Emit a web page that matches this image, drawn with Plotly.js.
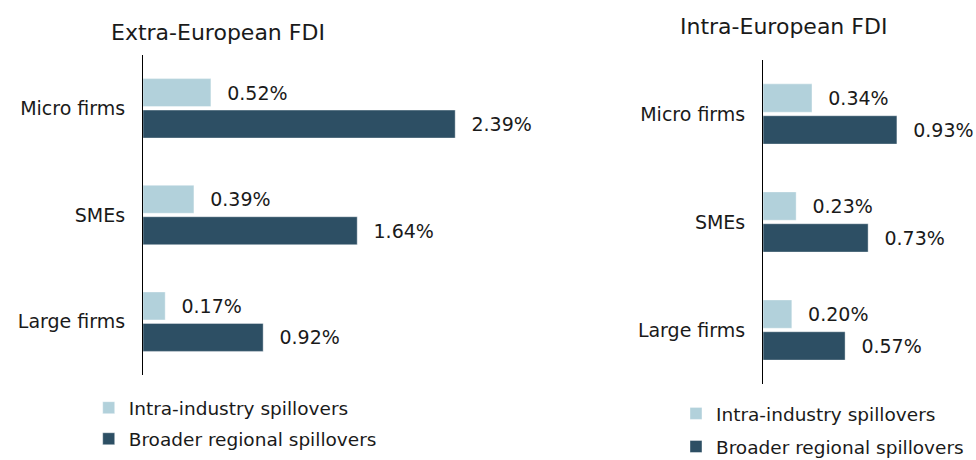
<!DOCTYPE html>
<html>
<head>
<meta charset="utf-8">
<script src="https://cdn.plot.ly/plotly-3.0.1.min.js"></script>
<style>
  body { margin: 0; background: #fff; }
  #chart { width: 976px; height: 460px; }
</style>
</head>
<body>
<div id="chart"></div>
<script>
// firm size groups, top to bottom
var categories = ["Micro firms", "SMEs", "Large firms"];

// Extra-European FDI (%)
var extraIntra = [0.52, 0.39, 0.17];
var extraBroader = [2.39, 1.64, 0.92];

// Intra-European FDI (%)
var intraIntra = [0.34, 0.23, 0.20];
var intraBroader = [0.93, 0.73, 0.57];

var seriesNames = ["Intra-industry spillovers", "Broader regional spillovers"];
var panelTitles = ["Extra-European FDI", "Intra-European FDI"];

var lightBlue = "#b2d1db";
var darkBlue = "#2d4f64";
var font = "DejaVu Sans, Verdana, sans-serif";

function barTrace(vals, name, color, xa, ya, legend) {
  return {
    type: "bar",
    orientation: "h",
    y: categories,
    x: vals,
    name: name,
    xaxis: xa,
    yaxis: ya,
    legend: legend,
    legendgroup: legend + name,
    marker: { color: color, line: { color: "rgba(255,255,255,0.4)", width: 1 } },
    texttemplate: "\u2002\u2009%{x:.2f}%",
    textposition: "outside",
    constraintext: "none",
    cliponaxis: false,
    textfont: { family: font, size: 19, color: "#1a1a1a" },
    hoverinfo: "x+y"
  };
}

var data = [
  barTrace(extraIntra, seriesNames[0], lightBlue, "x", "y", "legend"),
  barTrace(extraBroader, seriesNames[1], darkBlue, "x", "y", "legend"),
  barTrace(intraIntra, seriesNames[0], lightBlue, "x2", "y2", "legend2"),
  barTrace(intraBroader, seriesNames[1], darkBlue, "x2", "y2", "legend2")
];

var yaxisBase = {
  type: "category",
  categoryorder: "array",
  categoryarray: categories,
  autorange: "reversed",
  showline: true,
  linecolor: "#000",
  linewidth: 1,
  ticks: "outside",
  ticklen: 13,
  tickcolor: "rgba(0,0,0,0)",
  showgrid: false,
  zeroline: false,
  tickfont: { family: font, size: 19, color: "#1a1a1a" }
};

var legendFont = { family: font, size: 18.5, color: "#1a1a1a" };

var layout = {
  width: 976,
  height: 460,
  margin: { l: 0, r: 0, t: 0, b: 0, autoexpand: false },
  paper_bgcolor: "#fff",
  plot_bgcolor: "#fff",
  barmode: "group",
  bargap: 0.41,
  bargroupgap: 0.11,
  font: { family: font, color: "#1a1a1a" },
  xaxis: { domain: [0.1465, 0.4945], range: [0, 2.6], visible: false, anchor: "y" },
  yaxis: Object.assign({}, yaxisBase, { domain: [0.1848, 0.8804], anchor: "x" }),
  xaxis2: { domain: [0.7818, 0.9883], range: [0, 1.4], visible: false, anchor: "y2" },
  yaxis2: Object.assign({}, yaxisBase, { domain: [0.1652, 0.8696], anchor: "x2" }),
  legend: {
    x: 0.0909, y: 0.154, xanchor: "left", yanchor: "top",
    orientation: "v", traceorder: "grouped", tracegroupgap: 4,
    font: legendFont,
    bgcolor: "rgba(0,0,0,0)"
  },
  legend2: {
    x: 0.6926, y: 0.1415, xanchor: "left", yanchor: "top",
    orientation: "v", traceorder: "grouped", tracegroupgap: 6,
    font: legendFont,
    bgcolor: "rgba(0,0,0,0)"
  },
  annotations: [
    { text: panelTitles[0], xref: "paper", yref: "paper", x: 218 / 976, y: 1 - 32 / 460,
      xanchor: "center", yanchor: "middle", showarrow: false,
      font: { family: font, size: 22, color: "#1a1a1a" } },
    { text: panelTitles[1], xref: "paper", yref: "paper", x: 783 / 976, y: 1 - 27 / 460,
      xanchor: "center", yanchor: "middle", showarrow: false,
      font: { family: font, size: 22, color: "#1a1a1a" } }
  ]
};

Plotly.newPlot("chart", data, layout, { displayModeBar: false, staticPlot: true });
</script>
</body>
</html>
